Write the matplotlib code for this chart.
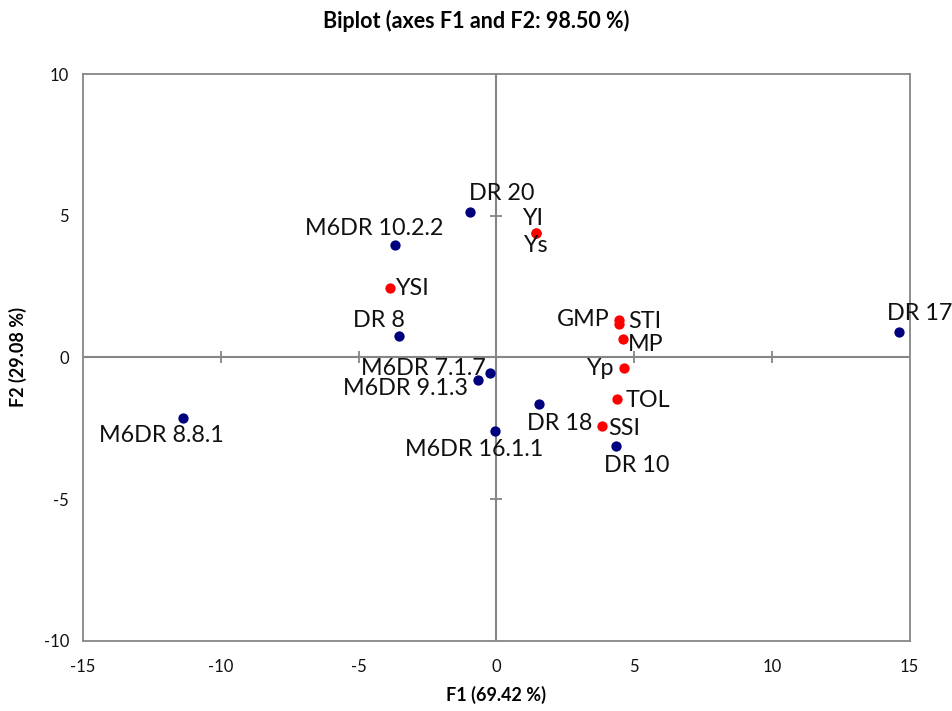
import matplotlib
matplotlib.use("Agg")
import matplotlib.pyplot as plt

plt.rcParams['font.family'] = ['Lato', 'DejaVu Sans']
plt.rcParams['axes.unicode_minus'] = False

# Observations (blue)
obs_names = ["DR 20", "M6DR 10.2.2", "DR 8", "M6DR 7.1.7", "M6DR 9.1.3",
             "M6DR 8.8.1", "M6DR 16.1.1", "DR 18", "DR 10", "DR 17"]
obs_f1 = [-0.97, -3.67, -3.54, -0.24, -0.66, -11.38, -0.06, 1.55, 4.34, 14.60]
obs_f2 = [5.15, 3.97, 0.75, -0.54, -0.80, -2.13, -2.58, -1.65, -3.11, 0.89]

# Variables (red)
var_names = ["YI", "Ys", "YSI", "GMP", "STI", "MP", "Yp", "TOL", "SSI"]
var_f1 = [1.43, 1.43, -3.87, 4.45, 4.45, 4.60, 4.62, 4.39, 3.85]
var_f2 = [4.39, 4.39, 2.45, 1.33, 1.19, 0.66, -0.36, -1.46, -2.43]

x_ticks = [-15, -10, -5, 0, 5, 10, 15]
y_ticks = [-10, -5, 0, 5, 10]

# label placement: (dx px, dy px, ha)   dy positive = up
obs_lab = {
    "DR 20": (32, 18, "center"),
    "M6DR 10.2.2": (-21, 16, "center"),
    "DR 8": (-20, 16, "center"),
    "M6DR 7.1.7": (-4, 4, "right"),
    "M6DR 9.1.3": (-10, -8, "right"),
    "M6DR 8.8.1": (-21, -18, "center"),
    "M6DR 16.1.1": (-20, -19, "center"),
    "DR 18": (21, -19, "center"),
    "DR 10": (21, -20, "center"),
    "DR 17": (21, 19, "center"),
}
var_lab = {
    "YI": (-3, 15, "center"),
    "Ys": (0, -12, "center"),
    "YSI": (5, 0, "left"),
    "GMP": (-9, 0, "right"),
    "STI": (9, 2, "left"),
    "MP": (5, -6, "left"),
    "Yp": (-10, -1, "right"),
    "TOL": (8, -2, "left"),
    "SSI": (6, -2, "left"),
}

fig = plt.figure(figsize=(9.52, 7.11), dpi=100)
ax = fig.add_axes([0.0872, 0.0985, 0.8682, 0.7974])

frame_col = "#868686"
ax.set_xlim(-15, 15)
ax.set_ylim(-10, 10)
for s in ax.spines.values():
    s.set_color(frame_col)
    s.set_linewidth(1.3)

ax.axhline(0, color=frame_col, lw=1.5, zorder=1)
ax.axvline(0, color=frame_col, lw=1.5, zorder=1)
xt_inner = [t for t in x_ticks if t not in (-15, 0, 15)]
yt_inner = [t for t in y_ticks if t not in (-10, 0, 10)]
ax.plot(xt_inner, [0] * len(xt_inner), ls="none", marker="|", ms=9, mew=1.3, color=frame_col, zorder=1)
ax.plot([0] * len(yt_inner), yt_inner, ls="none", marker="_", ms=9, mew=1.3, color=frame_col, zorder=1)

ax.set_xticks(x_ticks)
ax.set_yticks(y_ticks)
ax.tick_params(length=0, labelsize=12, pad=13, colors="#111111")
ax.tick_params(axis="y", pad=10)

ax.scatter(obs_f1, obs_f2, s=55, color="#00007F", zorder=3, linewidths=0)
ax.scatter(var_f1, var_f2, s=55, color="#FF0000", zorder=3, linewidths=0)

for n, x, y in zip(obs_names, obs_f1, obs_f2):
    dx, dy, ha = obs_lab[n]
    ax.annotate(n, (x, y), xytext=(dx, dy), textcoords="offset pixels",
                ha=ha, va="center", fontsize=16.8, color="#111111", annotation_clip=False)
for n, x, y in zip(var_names, var_f1, var_f2):
    dx, dy, ha = var_lab[n]
    ax.annotate(n, (x, y), xytext=(dx, dy), textcoords="offset pixels",
                ha=ha, va="center", fontsize=16.8, color="#111111", annotation_clip=False)

fig.text(0.5, 0.97, "Biplot (axes F1 and F2: 98.50 %)", ha="center", va="center",
         fontsize=15.5, fontweight="bold")
ax.set_xlabel("F1 (69.42 %)", fontsize=13, fontweight="bold", labelpad=8)
ax.set_ylabel("F2 (29.08 %)", fontsize=13, fontweight="bold", labelpad=12)

fig.savefig("out.png", dpi=100)
